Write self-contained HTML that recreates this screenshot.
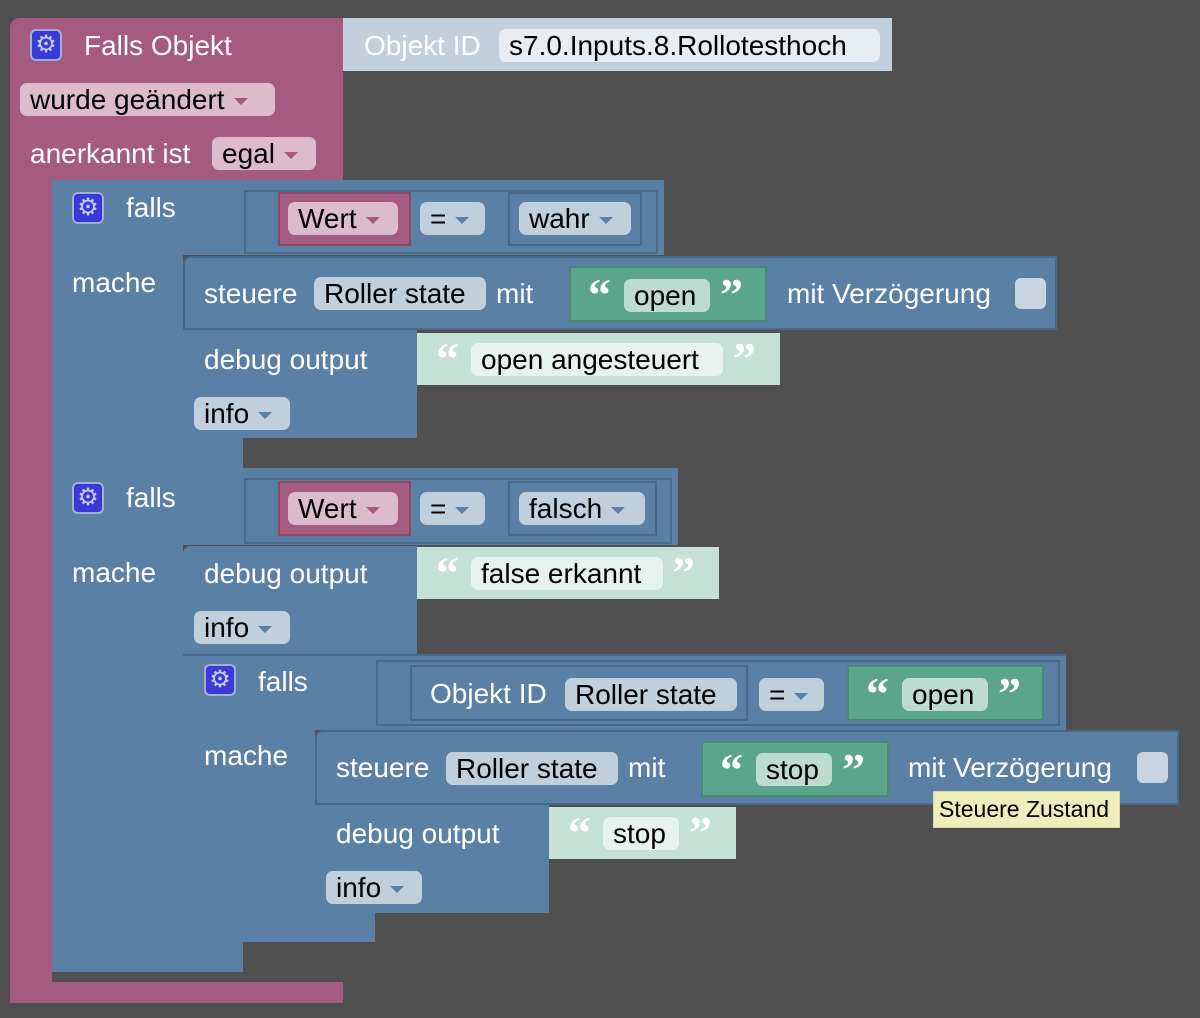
<!DOCTYPE html>
<html><head><meta charset="utf-8"><style>
body{margin:0;width:1200px;height:1018px;background:#505050;position:relative;overflow:hidden;font-family:"Liberation Sans",sans-serif;}
div{position:absolute;box-sizing:border-box;}
.m{background:#a55b80}
.b{background:#5b80a5}
.bb{background:#5b80a5;border:2px solid #48698c;}
.g{background:#5ba58c;border:2px solid #4a8a74;}
.lg{background:#c5e0d5}
.t{color:#fff;font-size:28px;line-height:34px;white-space:nowrap;}
.f{font-size:28px;line-height:33px;height:33px;color:#000;border-radius:7px;padding-left:10px;white-space:nowrap;}
.fm{background:#dcbccb}
.fb{background:#c0cfdc}
.fg{background:#bddccf}
.fw{background:#e6f2ee}
.ar{display:inline-block;width:0;height:0;border-left:7px solid transparent;border-right:7px solid transparent;margin-left:9px;vertical-align:middle;}
.fm .ar{border-top:7px solid #a55b80}
.fb .ar{border-top:7px solid #5b80a5}
.gear{width:32px;height:32px;background:#3a3ad8;border:2px solid #9fb0d0;border-radius:6px;color:#c8cde6;font-size:24px;line-height:27px;text-align:center;}
.q{color:#fff;font-size:46px;font-weight:bold;font-family:"Liberation Serif",serif;line-height:46px;}
.cb{width:31px;height:31px;background:#c8d4e0;border-radius:6px;}
</style></head><body>
<!-- magenta outer -->
<div class="m" style="left:10px;top:18px;width:333px;height:162px;border-radius:10px 0 0 0"></div>
<div class="m" style="left:10px;top:18px;width:42px;height:985px;border-radius:10px 0 0 10px"></div>
<div class="m" style="left:10px;top:982px;width:333px;height:21px"></div>
<div class="gear" style="left:30px;top:29px">⚙</div>
<div class="t" style="left:84px;top:29px">Falls Objekt</div>
<div style="left:343px;top:18px;width:549px;height:53px;background:#c2d0dd"></div>
<div class="t" style="left:364px;top:29px">Objekt ID</div>
<div class="f" style="left:499px;top:29px;width:381px;background:#e8edf2">s7.0.Inputs.8.Rollotesthoch</div>
<div class="f fm" style="left:20px;top:83px;width:255px">wurde geändert<span class="ar"></span></div>
<div class="t" style="left:30px;top:137px">anerkannt ist</div>
<div class="f fm" style="left:212px;top:137px;width:104px">egal<span class="ar"></span></div>

<!-- if1 -->
<div class="b" style="left:52px;top:180px;width:612px;height:75px;border-radius:8px 0 0 0"></div>
<div class="b" style="left:52px;top:180px;width:131px;height:288px"></div>
<div class="b" style="left:52px;top:438px;width:191px;height:30px"></div>
<div class="gear" style="left:72px;top:192px">⚙</div>
<div class="t" style="left:126px;top:191px">falls</div>
<div class="t" style="left:72px;top:266px">mache</div>
<div class="bb" style="left:244px;top:190px;width:414px;height:64px;background:transparent;border-color:#4a6a8a"></div>
<div class="m" style="left:278px;top:192px;width:133px;height:54px;border:2px solid #8a4868"></div>
<div class="f fm" style="left:288px;top:202px;width:110px">Wert<span class="ar"></span></div>
<div class="f fb" style="left:420px;top:202px;width:65px">=<span class="ar"></span></div>
<div class="bb" style="left:508px;top:192px;width:134px;height:54px"></div>
<div class="f fb" style="left:519px;top:202px;width:112px">wahr<span class="ar"></span></div>
<div class="bb" style="left:183px;top:256px;width:874px;height:74px;border-radius:8px 0 0 0"></div>
<div class="t" style="left:204px;top:277px">steuere</div>
<div class="f fb" style="left:314px;top:277px;width:172px">Roller state</div>
<div class="t" style="left:496px;top:277px">mit</div>
<div class="g" style="left:569px;top:266px;width:198px;height:56px"></div>
<div class="q" style="left:588px;top:272px">“</div>
<div class="f fg" style="left:624px;top:279px;width:86px">open</div>
<div class="q" style="left:720px;top:272px">”</div>
<div class="t" style="left:787px;top:277px">mit Verzögerung</div>
<div class="cb" style="left:1015px;top:278px"></div>
<div class="b" style="left:183px;top:330px;width:234px;height:108px"></div>
<div class="t" style="left:204px;top:343px">debug output</div>
<div class="f fb" style="left:194px;top:397px;width:96px">info<span class="ar"></span></div>
<div class="lg" style="left:417px;top:333px;width:363px;height:52px"></div>
<div class="q" style="left:436px;top:336px">“</div>
<div class="f fw" style="left:471px;top:343px;width:252px">open angesteuert</div>
<div class="q" style="left:733px;top:336px">”</div>

<!-- if2 -->
<div class="b" style="left:52px;top:468px;width:626px;height:77px"></div>
<div class="b" style="left:52px;top:468px;width:131px;height:504px;border-radius:0 0 0 8px"></div>
<div class="b" style="left:52px;top:942px;width:191px;height:30px"></div>
<div class="gear" style="left:72px;top:482px">⚙</div>
<div class="t" style="left:126px;top:481px">falls</div>
<div class="t" style="left:72px;top:556px">mache</div>
<div class="bb" style="left:244px;top:478px;width:428px;height:66px;background:transparent;border-color:#4a6a8a"></div>
<div class="m" style="left:278px;top:481px;width:133px;height:55px;border:2px solid #8a4868"></div>
<div class="f fm" style="left:288px;top:492px;width:110px">Wert<span class="ar"></span></div>
<div class="f fb" style="left:420px;top:492px;width:65px">=<span class="ar"></span></div>
<div class="bb" style="left:508px;top:481px;width:149px;height:55px"></div>
<div class="f fb" style="left:519px;top:492px;width:126px">falsch<span class="ar"></span></div>
<div class="b" style="left:183px;top:546px;width:234px;height:108px;border-radius:8px 0 0 0"></div>
<div class="t" style="left:204px;top:557px">debug output</div>
<div class="f fb" style="left:194px;top:611px;width:96px">info<span class="ar"></span></div>
<div class="lg" style="left:417px;top:547px;width:302px;height:52px"></div>
<div class="q" style="left:436px;top:550px">“</div>
<div class="f fw" style="left:471px;top:557px;width:192px">false erkannt</div>
<div class="q" style="left:672px;top:550px">”</div>

<!-- if3 -->
<div class="b" style="left:183px;top:654px;width:883px;height:76px;border-top:2px solid #48698c"></div>
<div class="b" style="left:183px;top:654px;width:132px;height:288px;border-top:2px solid #48698c"></div>
<div class="b" style="left:183px;top:913px;width:192px;height:29px"></div>
<div class="gear" style="left:204px;top:664px">⚙</div>
<div class="t" style="left:258px;top:665px">falls</div>
<div class="t" style="left:204px;top:739px">mache</div>
<div class="bb" style="left:376px;top:660px;width:684px;height:66px;background:transparent;border-color:#4a6a8a"></div>
<div class="bb" style="left:410px;top:665px;width:338px;height:56px"></div>
<div class="t" style="left:430px;top:677px">Objekt ID</div>
<div class="f fb" style="left:565px;top:678px;width:172px">Roller state</div>
<div class="f fb" style="left:759px;top:678px;width:65px">=<span class="ar"></span></div>
<div class="g" style="left:847px;top:665px;width:197px;height:56px"></div>
<div class="q" style="left:866px;top:671px">“</div>
<div class="f fg" style="left:902px;top:678px;width:86px">open</div>
<div class="q" style="left:998px;top:671px">”</div>
<div class="bb" style="left:315px;top:730px;width:864px;height:75px;border-radius:8px 0 0 0"></div>
<div class="t" style="left:336px;top:751px">steuere</div>
<div class="f fb" style="left:446px;top:752px;width:172px">Roller state</div>
<div class="t" style="left:628px;top:751px">mit</div>
<div class="g" style="left:701px;top:741px;width:188px;height:56px"></div>
<div class="q" style="left:720px;top:747px">“</div>
<div class="f fg" style="left:756px;top:753px;width:76px">stop</div>
<div class="q" style="left:842px;top:747px">”</div>
<div class="t" style="left:908px;top:751px">mit Verzögerung</div>
<div class="cb" style="left:1137px;top:752px"></div>
<div class="b" style="left:315px;top:805px;width:234px;height:108px"></div>
<div class="t" style="left:336px;top:817px">debug output</div>
<div class="f fb" style="left:326px;top:871px;width:96px">info<span class="ar"></span></div>
<div class="lg" style="left:549px;top:807px;width:187px;height:52px"></div>
<div class="q" style="left:568px;top:810px">“</div>
<div class="f fw" style="left:603px;top:817px;width:76px">stop</div>
<div class="q" style="left:689px;top:810px">”</div>

<div style="left:933px;top:791px;width:187px;height:37px;background:#eeeebc;border:1px solid #d8d8a0;font-size:23px;line-height:35px;color:#000;padding-left:5px;white-space:nowrap">Steuere Zustand</div>
</body></html>
